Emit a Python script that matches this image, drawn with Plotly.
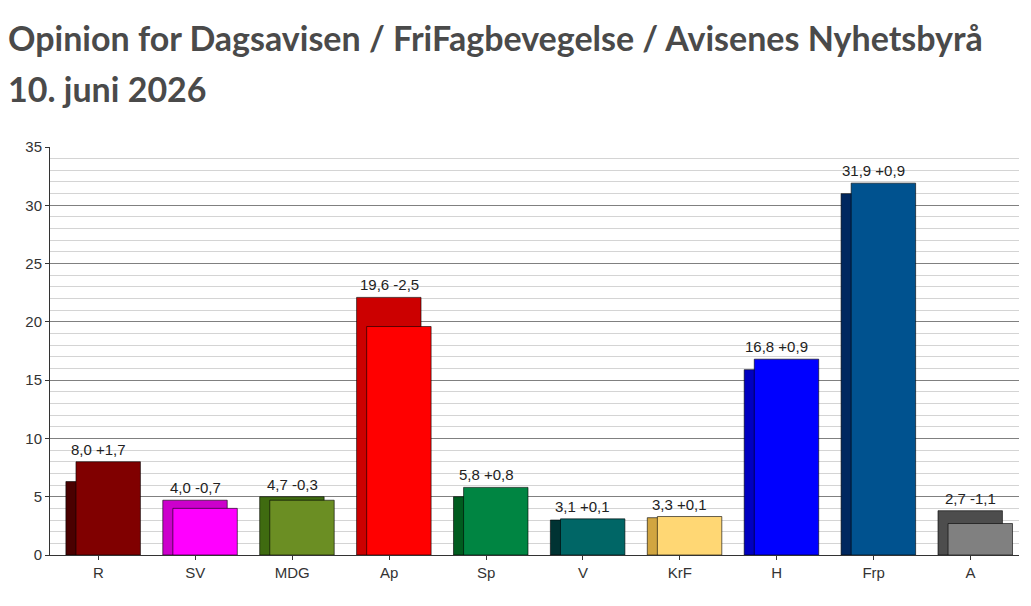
import plotly.graph_objects as go

parties = ['R', 'SV', 'MDG', 'Ap', 'Sp', 'V', 'KrF', 'H', 'Frp', 'A']
current = [8.0, 4.0, 4.7, 19.6, 5.8, 3.1, 3.3, 16.8, 31.9, 2.7]
change = [1.7, -0.7, -0.3, -2.5, 0.8, 0.1, 0.1, 0.9, 0.9, -1.1]
previous = [round(c - d, 1) for c, d in zip(current, change)]

col_now = ['#800000', '#ff00ff', '#6b8e23', '#ff0000', '#008542',
           '#006666', '#ffd774', '#0000ff', '#00528f', '#808080']
col_prev = ['#4a0000', '#cc00cc', '#3f6b10', '#cc0000', '#005c1f',
            '#003333', '#d1a540', '#0000c0', '#00285f', '#4d4d4d']

fig = go.Figure()
fig.add_trace(go.Bar(
    x=parties, y=previous, width=0.665, offset=-0.336,
    marker=dict(color=col_prev, line=dict(color='rgba(0,0,0,0.6)', width=1)),
    hoverinfo='skip', showlegend=False
))
fig.add_trace(go.Bar(
    x=parties, y=current, width=0.665, offset=-0.232,
    marker=dict(color=col_now, line=dict(color='rgba(0,0,0,0.6)', width=1)),
    showlegend=False
))

labels = []
for p, c, d, pr in zip(parties, current, change, previous):
    txt = (f"{c:.1f} {d:+.1f}").replace('.', ',')
    labels.append(dict(x=p, y=max(c, pr), text=txt, showarrow=False,
                       yanchor='bottom', yshift=2,
                       font=dict(family='Liberation Sans, Arial', size=15, color='#222')))

# title lines
title_font = dict(family='Lato', size=34, color='#4a4a4a')
labels.append(dict(xref='paper', yref='paper', x=-0.0454, y=1.2672, xanchor='left', yanchor='middle',
                   text='<b>Opinion for Dagsavisen / FriFagbevegelse / Avisenes Nyhetsbyrå</b>',
                   showarrow=False, font=title_font))
labels.append(dict(xref='paper', yref='paper', x=-0.0454, y=1.1422, xanchor='left', yanchor='middle',
                   text='<b>10. juni 2026</b>',
                   showarrow=False, font=title_font))

fig.update_layout(
    width=1023, height=598,
    margin=dict(l=42, r=12, t=139, b=51),
    barmode='overlay',
    plot_bgcolor='white', paper_bgcolor='white',
    annotations=labels,
    font=dict(family='Liberation Sans, Arial', size=15, color='#333'),
)
fig.update_xaxes(
    showline=True, linecolor='#333', linewidth=1,
    ticks='outside', ticklen=4, tickcolor='#333',
    showgrid=False,
)
fig.update_yaxes(
    range=[0, 35], dtick=5, showline=True, linecolor='#333', linewidth=1,
    ticks='outside', ticklen=4, tickcolor='#333',
    showgrid=True, gridcolor='#808080', gridwidth=1,
    minor=dict(dtick=1, showgrid=True, gridcolor='#d4d4d4', gridwidth=1),
    zeroline=False,
)

fig.write_html("out.html")
